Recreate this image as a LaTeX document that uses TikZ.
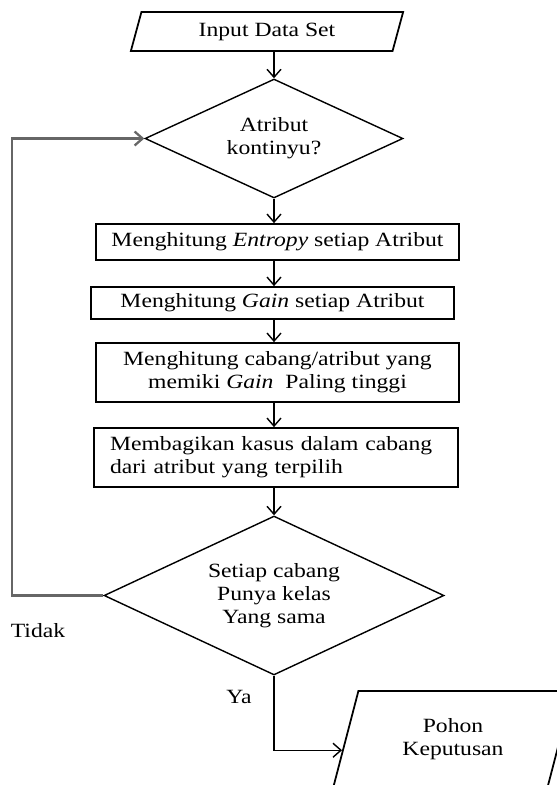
\documentclass[tikz,border=0pt]{standalone}
\usepackage{fontspec}
\setmainfont{Liberation Serif}[FakeStretch=1.17]
\usetikzlibrary{arrows.meta,positioning,calc,shapes.geometric}

\begin{document}
\begin{tikzpicture}[x=0.02cm, y=-0.02cm, font=\fontsize{11.5}{13}\selectfont,
  arr/.style={-{Straight Barb[length=1.6mm,width=2.8mm]}, line width=0.8pt},
  loopline/.style={draw=black!60, line width=1.3pt},
  procbox/.style={draw, line width=1pt, minimum width=7.26cm, align=center, inner sep=0pt},
  decision/.style={draw, diamond, aspect=2, line width=0.8pt, align=center, inner sep=0pt},
  iobox/.style={draw, trapezium, trapezium left angle=72, trapezium right angle=108,
    trapezium stretches=true, line width=1pt, align=center, inner sep=0pt}]
\useasboundingbox (0,0) rectangle (557,785);

\node[iobox, minimum width=5.48cm, minimum height=0.78cm] (input) at (267,31.5) {Input Data Set};
\node[decision, minimum width=5.16cm, minimum height=2.38cm] (atrib) at (274,138.5) {Atribut\\kontinyu?};

\node[procbox, minimum height=0.72cm] (entropy) at (277.5,242) {Menghitung \textit{Entropy} setiap Atribut};
\node[procbox, minimum height=0.64cm] (gain) at (272.5,303) {Menghitung \textit{Gain} setiap Atribut};
\node[procbox, minimum height=1.18cm] (tertinggi) at (277.5,372.5) {Menghitung cabang/atribut yang\\memiki \textit{Gain}\ \ Paling tinggi};
\node[procbox, minimum height=1.18cm, text width=6.64cm, inner xsep=0.32cm, align=left] (bagi) at (276,457.5) {Membagikan kasus dalam cabang\\dari atribut yang terpilih};

\node[decision, minimum width=6.8cm, minimum height=3.18cm] (sama) at (274,595.5) {Setiap cabang\\Punya kelas\\Yang sama};
\node[iobox, minimum width=4.8cm, minimum height=1.92cm] (pohon) at (453,739) {Pohon\\Keputusan};

\node (tidak) at (38,631) {Tidak};
\node (ya) at (239,697) {Ya};

% alur utama
\draw[arr] (input.south -| atrib.north) -- (atrib.north);
\draw[arr] (atrib.south) -- (atrib.south |- entropy.north);
\foreach \a/\b in {entropy/gain, gain/tertinggi, tertinggi/bagi}{
  \draw[arr] (\a.south -| atrib.south) -- (\b.north -| atrib.south);
}
\draw[arr] (bagi.south -| sama.north) -- (sama.north);

% tidak: kembali ke atas
\draw[arr, loopline] (sama.west) -- ++(-91,0) |- (atrib.west);

% ya: ke hasil
\coordinate (masuk) at ($(pohon.top left corner)!0.615!(pohon.bottom left corner)$);
\draw[arr] (sama.south) |- (masuk);
\end{tikzpicture}
\end{document}
